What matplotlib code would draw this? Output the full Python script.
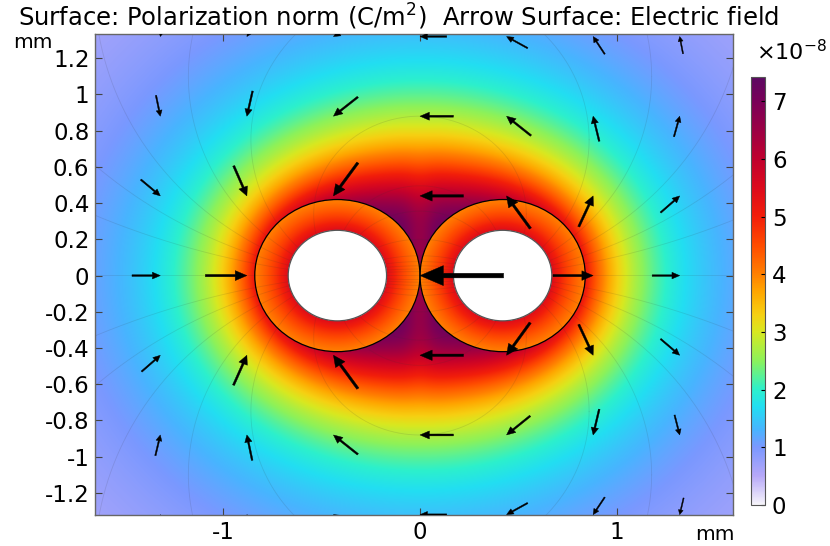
import numpy as np
import matplotlib
matplotlib.use("Agg")
import matplotlib.pyplot as plt
from matplotlib.colors import LinearSegmentedColormap, Normalize
from matplotlib.patches import Circle

# ---------------- data ----------------
# geometry (mm)
ring_centers_x = [-0.42, 0.42]
ring_outer_r = 0.42
hole_r = 0.25

# surface model parameters (polarization norm, units 1e-8 C/m^2)
charge_x = 0.45          # effective line-charge position
field_k = 2.6            # strength
field_c0 = 0.1           # background offset
sat_level = 7.45         # saturation near the gap
ring_edge_value = 4.0    # value at outer edge inside the rings
ring_exp = 0.6

cbar_min, cbar_max = 0.0, 7.42
cbar_ticks = [0, 1, 2, 3, 4, 5, 6, 7]

x_ticks = [-1, 0, 1]
y_ticks = [-1.2, -1.0, -0.8, -0.6, -0.4, -0.2, 0, 0.2, 0.4, 0.6, 0.8, 1.0, 1.2]
y_ticklabels = ["-1.2", "-1", "-0.8", "-0.6", "-0.4", "-0.2", "0",
                "0.2", "0.4", "0.6", "0.8", "1", "1.2"]

# arrows: head positions (mm) and vector (mm, tail -> head)
arrow_x = [-1.32, -0.88, -0.44, 0.0, 0.44, 0.88, 1.32,
           -1.32, -0.88, -0.44, 0.0, 0.44, 0.88, 1.32,
           -1.32, -0.88, -0.44, 0.0, 0.44, 0.88, 1.32,
           -1.32, -0.88, 0.0, 0.88, 1.32,
           -1.32, -0.88, -0.44, 0.0, 0.44, 0.88, 1.32,
           -1.32, -0.88, -0.44, 0.0, 0.44, 0.88, 1.32,
           -1.32, -0.88, -0.44, 0.0, 0.44, 0.88, 1.32]
arrow_y = [1.32] * 7 + [0.88] * 7 + [0.44] * 7 + [0.0] * 5 + \
          [-0.44] * 7 + [-0.88] * 7 + [-1.32] * 7
arrow_u = [-0.018, -0.059, -0.107, -0.136, -0.107, -0.059, -0.017,
           0.022, -0.029, -0.124, -0.170, -0.124, -0.031, 0.029,
           0.099, 0.067, -0.124, -0.221, -0.121, 0.073, 0.097,
           0.144, 0.211, -0.425, 0.204, 0.140,
           0.095, 0.068, -0.124, -0.221, -0.120, 0.073, 0.097,
           0.025, -0.027, -0.124, -0.170, -0.120, -0.031, 0.026,
           -0.018, -0.059, -0.107, -0.136, -0.107, -0.059, -0.020]
arrow_v = [-0.094, -0.097, -0.064, 0.0, 0.064, 0.097, 0.095,
           -0.115, -0.139, -0.106, 0.0, 0.107, 0.138, 0.113,
           -0.090, -0.166, -0.183, 0.0, 0.180, 0.170, 0.092,
           0.0, 0.0, 0.0, 0.0, 0.0,
           0.090, 0.165, 0.184, 0.0, -0.180, -0.170, -0.090,
           0.114, 0.140, 0.107, 0.0, -0.105, -0.142, -0.110,
           0.094, 0.097, 0.064, 0.0, -0.064, -0.096, -0.092]

# colormap anchors (value in 1e-8, colour)
cmap_values = [0.0, 0.5, 1.0, 1.3, 1.7, 2.0, 2.5, 3.0, 3.3, 3.7, 4.0, 4.5,
               5.0, 5.5, 6.0, 6.5, 7.0, 7.42]
cmap_colors = ["#f6f4fa", "#b6a8f8", "#7a98ff", "#48b4ff", "#22def2",
               "#2cf0cc", "#8cf25a", "#d8e820", "#f6d012", "#ffa600",
               "#ff8000", "#ff4c00", "#f21e0a", "#dc0a1c", "#c0002e",
               "#9c0044", "#7a0058", "#5c0a62"]

title = r"Surface: Polarization norm (C/m$^{2}$)  Arrow Surface: Electric field"

# ---------------- figure ----------------
plt.rcParams['font.family'] = ['DejaVu Sans']
plt.rcParams['axes.unicode_minus'] = False
W, H = 830, 546
fig = plt.figure(figsize=(W / 100, H / 100), dpi=100)
FS = 16.5
FS_T = 17.5

ax_l, ax_r, ax_t, ax_b = 95, 733, 34, 515
ax = fig.add_axes([ax_l / W, 1 - ax_b / H, (ax_r - ax_l) / W, (ax_b - ax_t) / H])
xmin, xmax = -1.652, 1.591
ymin, ymax = -1.322, 1.334

nodes = [(v - cmap_values[0]) / (cmap_values[-1] - cmap_values[0]) for v in cmap_values]
cmap = LinearSegmentedColormap.from_list("comsol", list(zip(nodes, cmap_colors)), N=512)
cmap.set_bad((1, 1, 1, 0))

nx, ny = 1300, 1000
xs = np.linspace(xmin, xmax, nx)
ys = np.linspace(ymin, ymax, ny)
X, Y = np.meshgrid(xs, ys)

r1 = np.hypot(X - charge_x, Y)
r2 = np.hypot(X + charge_x, Y)
v0 = field_k / (r1 * r2) + field_c0
n = 6.0
v_out = v0 / (1 + (v0 / sat_level) ** n) ** (1 / n)
v_out *= 1 - 0.12 * np.exp(-(X / 0.07) ** 2) * np.exp(-(Y / 0.45) ** 2)

Z = v_out.copy()
for cx in ring_centers_x:
    rho = np.hypot(X - cx, Y)
    in_ring = rho <= ring_outer_r
    v_in = ring_edge_value * (ring_outer_r / np.maximum(rho, 1e-6)) ** ring_exp
    Z = np.where(in_ring, v_in, Z)
    Z = np.where(rho < hole_r, np.nan, Z)
Z = np.ma.masked_invalid(Z)

norm = Normalize(vmin=cbar_min, vmax=cbar_max)
im = ax.imshow(Z, extent=[xmin, xmax, ymin, ymax], origin="lower", aspect="auto",
               cmap=cmap, norm=norm, interpolation="bilinear", zorder=1)

# faint field lines (circles through the ring centres)
theta = np.linspace(0, 2 * np.pi, 3000)
for k in [0.07, 0.34, 0.75, 1.1, 1.6, 2.4, 4.0]:
    for s in (1, -1):
        kk = s * k
        rr = np.hypot(ring_centers_x[1], kk)
        lx = rr * np.cos(theta)
        ly = kk + rr * np.sin(theta)
        inside = np.zeros_like(lx, bool)
        for cx in ring_centers_x:
            inside |= np.hypot(lx - cx, ly) < hole_r
        lx = np.where(inside, np.nan, lx)
        ax.plot(lx, ly, color="#333333", lw=0.6, alpha=0.13, zorder=2)
lx = np.linspace(xmin, xmax, 2000)
ly = np.zeros_like(lx)
inside = np.zeros_like(lx, bool)
for cx in ring_centers_x:
    inside |= np.abs(lx - cx) < hole_r
ax.plot(np.where(inside, np.nan, lx), ly, color="#333333", lw=0.6, alpha=0.13, zorder=2)

# ring outlines
for cx in ring_centers_x:
    ax.add_patch(Circle((cx, 0), ring_outer_r, fill=False, ec="black", lw=0.9, zorder=3))
    ax.add_patch(Circle((cx, 0), hole_r, fill=False, ec="#555555", lw=0.9, zorder=3))

# arrows
for hx, hy, u, v in zip(arrow_x, arrow_y, arrow_u, arrow_v):
    L = np.hypot(u, v)
    ax.arrow(hx - u, hy - v, u, v, width=0.06 * L, head_width=0.26 * L,
             head_length=0.28 * L, length_includes_head=True, fc="black",
             ec="black", lw=0.3, zorder=4)

ax.set_xlim(xmin, xmax)
ax.set_ylim(ymin, ymax)
ax.set_xticks(x_ticks)
ax.set_xticklabels([str(t) for t in x_ticks])
ax.set_yticks(y_ticks)
ax.set_yticklabels(y_ticklabels)
ax.tick_params(direction="in", length=5, width=0.8, color="#444444",
               top=True, right=True, labelsize=FS, pad=4)
for sp in ax.spines.values():
    sp.set_color("#666666")
    sp.set_linewidth(1.0)

fig.text(399 / W, 1 - 17 / H, title, ha="center", va="center", fontsize=FS_T)
fig.text(33 / W, 1 - 42 / H, "mm", ha="center", va="center", fontsize=14.5)
fig.text(715 / W, 1 - 534 / H, "mm", ha="center", va="center", fontsize=14.5)

# colorbar
cb_l, cb_r, cb_t, cb_b = 751, 765, 77, 505
cax = fig.add_axes([cb_l / W, 1 - cb_b / H, (cb_r - cb_l) / W, (cb_b - cb_t) / H])
cb = fig.colorbar(im, cax=cax, ticks=cbar_ticks)
cb.ax.set_yticklabels([str(t) for t in cbar_ticks])
cb.ax.tick_params(direction="in", length=3, width=0.8, labelsize=FS, pad=5)
cb.outline.set_edgecolor("#555555")
cb.outline.set_linewidth(0.8)
fig.text(827 / W, 1 - 52 / H, r"$\times$10$^{-8}$", ha="right", va="center", fontsize=16)

fig.savefig("out.png", dpi=100)
